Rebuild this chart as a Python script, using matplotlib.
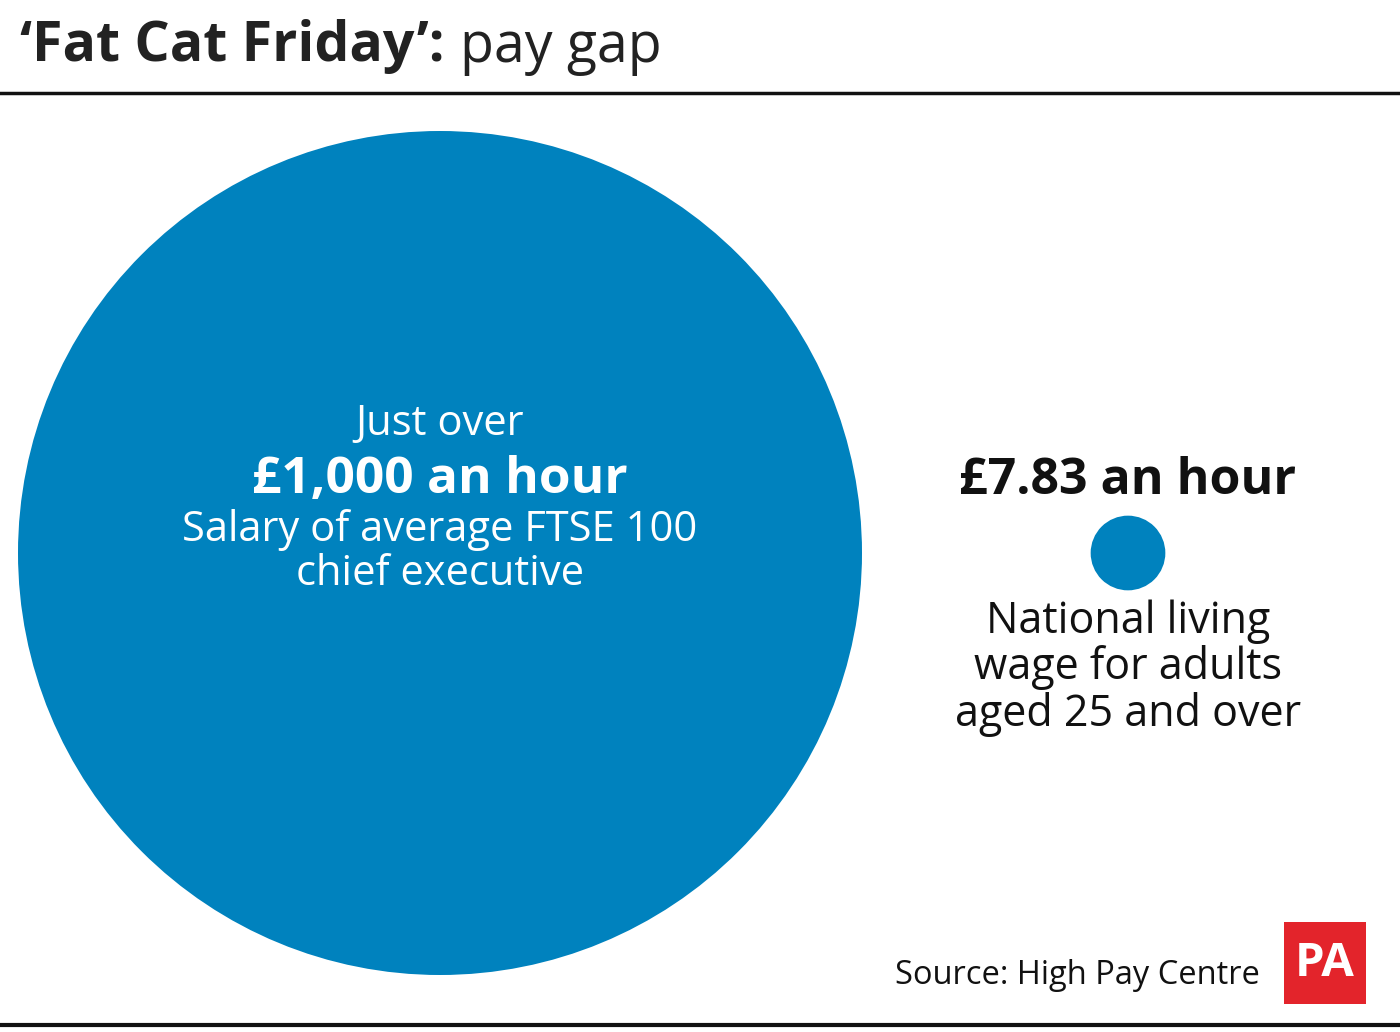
import numpy as np
import matplotlib.pyplot as plt
from matplotlib.patches import Circle, Rectangle

# data
labels = ['Salary of average FTSE 100\nchief executive', 'National living\nwage for adults\naged 25 and over']
values = [1000, 7.83]
value_text = ['£1,000 an hour', '£7.83 an hour']
centers_x = [440, 1128]
center_y = 553

blue = '#0082BE'
k = 422 / np.sqrt(values[0])  # area-proportional radius scale

fig = plt.figure(figsize=(14, 10.32), dpi=100)
ax = fig.add_axes([0, 0, 1, 1])
ax.set_xlim(0, 1400)
ax.set_ylim(1032, 0)
ax.axis('off')
font = 'Open Sans'

# title
t = ax.text(20, 47, '\u2018Fat Cat Friday\u2019:', fontsize=40, fontweight='bold',
            family=font, va='center', color='#222222')
fig.canvas.draw()
bb = t.get_window_extent().transformed(ax.transData.inverted())
ax.text(bb.x1 + 15, 47, 'pay gap', fontsize=40, family=font, va='center', color='#222222')
ax.plot([0, 1400], [93, 93], color='#111111', lw=2.5)
ax.plot([0, 1400], [1025, 1025], color='#111111', lw=3)

for cx, v in zip(centers_x, values):
    ax.add_patch(Circle((cx, center_y), k * np.sqrt(v), color=blue, lw=0))

# big circle text
ax.text(440, 424, 'Just over', fontsize=30, family=font, color='white', ha='center', va='center')
ax.text(440, 480, value_text[0], fontsize=37, fontweight='bold', family=font, color='white',
        ha='center', va='center')
ax.text(440, 552, labels[0], fontsize=30, family=font, color='white', ha='center', va='center',
        linespacing=1.05)

# small circle text
ax.text(1128, 481, value_text[1], fontsize=36, fontweight='bold', family=font, color='#111111',
        ha='center', va='center')
ax.text(1128, 668, labels[1], fontsize=31, family=font, color='#111111', ha='center', va='center',
        linespacing=1.05)

ax.text(1260, 975, 'Source: High Pay Centre', fontsize=23.5, family=font, color='#111111',
        ha='right', va='center')
ax.add_patch(Rectangle((1284, 922), 82, 82, color='#E3242B', lw=0))
ax.text(1325, 964, 'PA', fontsize=34, fontweight='bold', family=font, color='white',
        ha='center', va='center', fontstretch='condensed')

fig.savefig('out.png', dpi=100)
